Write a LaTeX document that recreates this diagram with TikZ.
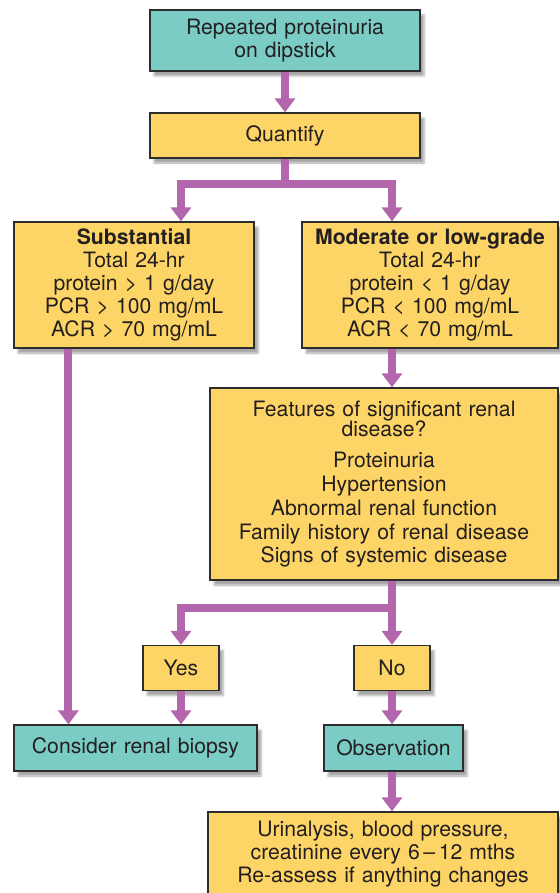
\documentclass[tikz,border=0pt]{standalone}
\usepackage{fontspec}
\setmainfont{TeX Gyre Heros}
\usetikzlibrary{positioning, calc, arrows.meta, shadows.blur}

\definecolor{boxteal}{RGB}{123,204,197}
\definecolor{boxyellow}{RGB}{253,212,102}
\definecolor{flowpurple}{RGB}{180,102,172}
\definecolor{edgegrey}{RGB}{45,45,45}
\definecolor{textgrey}{RGB}{35,31,32}

\begin{document}
\begin{tikzpicture}[
    x=1pt, y=-1pt,
    box/.style={draw=edgegrey, line width=1.2pt, inner sep=0pt, align=center,
        text=textgrey, font=\fontsize{21.2}{22.8}\selectfont,
        blur shadow={shadow xshift=4pt, shadow yshift=-5pt, shadow opacity=35}},
    tealbox/.style={box, fill=boxteal},
    yellowbox/.style={box, fill=boxyellow},
    flow/.style={draw=flowpurple, line width=8pt},
    >={Triangle[length=14pt, width=20pt]},
]
    \useasboundingbox (0,0) rectangle (559,893);

    \node[tealbox, text width=270pt, minimum height=61pt] (start) at (285,40.5)
        {Repeated proteinuria\\on dipstick};
    \node[yellowbox, text width=270pt, minimum height=45pt] (quantify) at (285,135.5) {Quantify};
    \node[yellowbox, text width=240pt, minimum height=126pt] (subst) at (134,285)
        {\textbf{Substantial}\\Total 24-hr\\protein > 1 g/day\\PCR > 100 mg/mL\\ACR > 70 mg/mL};
    \node[yellowbox, text width=256pt, minimum height=126pt] (moder) at (430,285)
        {\textbf{Moderate or low-grade}\\Total 24-hr\\protein < 1 g/day\\PCR < 100 mg/mL\\ACR < 70 mg/mL};
    \node[yellowbox, text width=348pt, minimum height=192pt] (feat) at (384,484)
        {Features of significant renal\\[-2pt]disease?\\[8pt]Proteinuria\\[1pt]Hypertension\\[1pt]Abnormal renal function\\[1pt]Family history of renal disease\\[1pt]Signs of systemic disease\\[6pt]};
    \node[yellowbox, text width=76pt, minimum height=45pt] (yes) at (181,668) {Yes};
    \node[yellowbox, text width=76pt, minimum height=45pt] (no) at (392,668) {No};
    \node[tealbox, text width=243pt, minimum height=46pt] (biopsy) at (135.5,748) {Consider renal biopsy};
    \node[tealbox, text width=139pt, minimum height=46pt] (obs) at (393.5,748) {Observation};
    \node[yellowbox, text width=350pt, minimum height=84pt] (follow) at (383,854)
        {Urinalysis, blood pressure,\\creatinine every 6\,--\,12 mths\\Re-assess if anything changes};

    % connectors
    \draw[flow, ->] (start) -- (quantify);
    \draw[flow] (quantify.south) -- ++(0,25) coordinate (qsplit);
    \draw[flow, ->] (qsplit) -| (subst.north -| yes);
    \draw[flow, ->] (qsplit) -| (moder.north -| no);

    \draw[flow, ->] ([xshift=55pt]subst.south west) -- ([xshift=55pt]biopsy.north west);
    \draw[flow, ->] (moder.south -| no) -- (feat.north -| no);

    \draw[flow] (feat.south -| no) -- ++(0,27) coordinate (fsplit);
    \draw[flow, ->] (fsplit) -| (yes);
    \draw[flow, ->] (fsplit) -- (no);
    \draw[flow, ->] (yes) -- (yes |- biopsy.north);
    \draw[flow, ->] (no) -- (no |- obs.north);
    \draw[flow, ->] (obs.south -| no) -- (follow.north -| no);

\end{tikzpicture}
\end{document}
